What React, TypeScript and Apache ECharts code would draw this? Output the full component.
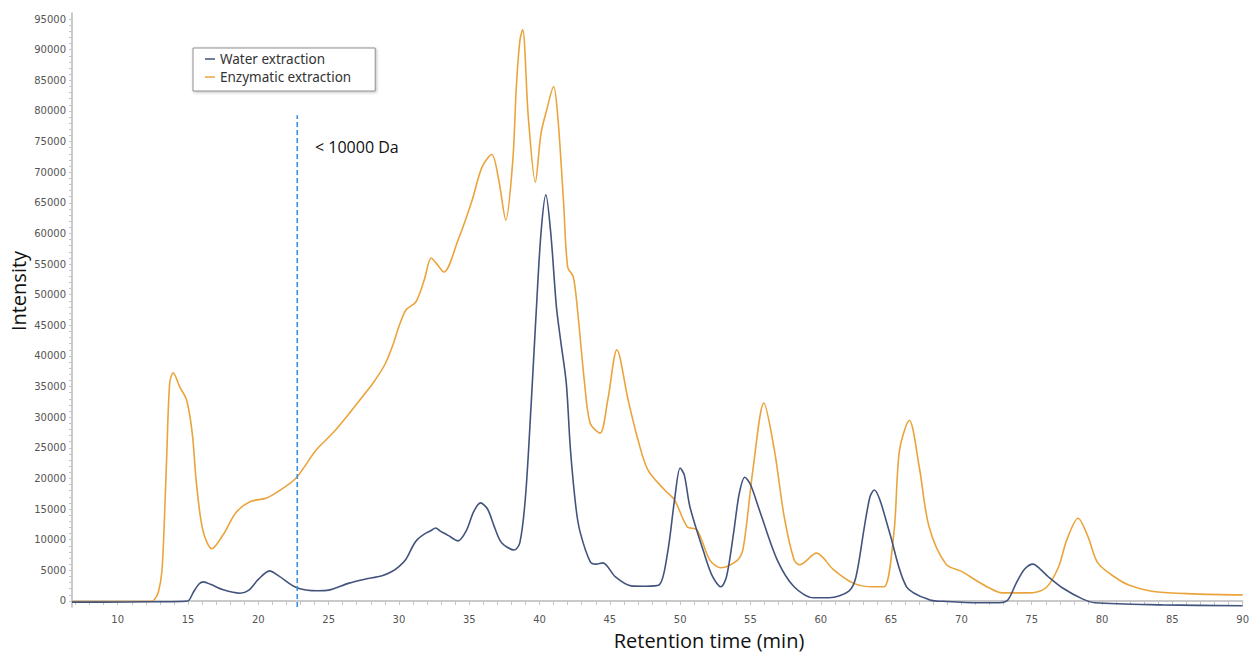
import React, { useEffect, useRef } from "react";
import * as echarts from "echarts";

const waterTime = [6.75, 9, 12, 14.5, 15.0, 15.4, 15.8, 16.1, 16.6, 17.5, 18.7, 19.3, 20.0, 20.8, 21.5, 22.7, 24.2, 25.0, 26.45, 27.5, 28.8, 29.5, 30.0, 30.5, 31.0, 31.3, 31.8, 32.3, 32.6, 33.0, 33.5, 34.2, 34.8, 35.3, 35.8, 36.3, 36.8, 37.3, 38.2, 38.6, 39.0, 39.4, 39.75, 40.1, 40.45, 40.8, 41.2, 41.5, 41.9, 42.2, 42.6, 42.9, 43.6, 44.0, 44.5, 45.4, 46.5, 47.5, 48.5, 49.1, 49.6, 50.0, 50.3, 50.7, 51.7, 52.3, 52.9, 53.3, 53.8, 54.2, 54.6, 55.0, 55.7, 56.9, 58.1, 59.5, 60.6, 62.0, 62.5, 63.1, 63.5, 63.8, 64.2, 64.9, 66.1, 67.7, 69.0, 71.3, 72.7, 73.3, 73.9, 74.5, 75.1, 75.6, 76.2, 77.2, 78.6, 79.5, 84.3, 90];
const waterIntensity = [-200, -200, -150, -100, 0, 1500, 2800, 3100, 2700, 1800, 1250, 1700, 3500, 4900, 4000, 2200, 1650, 1750, 2900, 3500, 4100, 4800, 5600, 6800, 9000, 10000, 10900, 11500, 11900, 11300, 10700, 9800, 11500, 14500, 16000, 15000, 12000, 9500, 8300, 9500, 17000, 32000, 46700, 60000, 66300, 60000, 48000, 42500, 35600, 24600, 15000, 11100, 6400, 6000, 6200, 3900, 2450, 2400, 2600, 7800, 16500, 21700, 20500, 15300, 7800, 4000, 2300, 4000, 11100, 17500, 20200, 19000, 14400, 6700, 2300, 500, 500, 1600, 3900, 12100, 17000, 18100, 16500, 11100, 2300, 200, -100, -300, -300, 150, 2900, 5200, 6000, 5200, 3900, 2100, 330, -300, -650, -800];

const enzTime = [6.75, 10, 12.3, 12.6, 12.9, 13.15, 13.35, 13.5, 13.7, 13.95, 14.4, 14.9, 15.3, 15.6, 16.05, 16.7, 17.5, 18.4, 19.4, 20.6, 21.7, 22.7, 24.1, 25.3, 26.5, 27.6, 28.2, 29.0, 29.6, 30.0, 30.5, 31.2, 31.8, 32.3, 32.7, 33.2, 34.2, 35.2, 35.9, 36.6, 37.1, 37.6, 38.1, 38.35, 38.6, 38.8, 39.2, 39.7, 40.1, 40.5, 41.0, 41.3, 41.7, 42.0, 42.4, 42.7, 43.2, 43.6, 44.3, 44.85, 45.5, 46.3, 47.0, 47.7, 48.9, 49.6, 50.5, 51.2, 52.1, 52.9, 54.1, 54.5, 55.2, 55.95, 56.7, 57.4, 58.1, 58.5, 59.7, 60.9, 62.3, 63.7, 64.5, 65.2, 65.6, 66.3, 67.0, 67.7, 68.9, 70.1, 71.0, 72.0, 72.9, 74.8, 76.0, 76.9, 77.5, 78.3, 79.0, 79.7, 80.9, 81.9, 83.8, 86.6, 90];
const enzIntensity = [-100, -100, -100, 200, 1500, 5000, 15000, 24600, 35600, 37250, 35000, 32800, 27400, 19200, 11600, 8500, 10800, 14400, 16200, 16800, 18300, 20100, 24600, 27400, 30700, 33900, 35700, 38600, 42000, 44800, 47500, 48800, 52400, 56000, 55000, 53700, 58900, 65400, 70800, 72900, 68700, 62200, 72000, 84000, 91500, 93300, 79000, 68400, 76300, 80100, 84000, 79000, 65400, 54500, 52900, 47500, 35600, 29000, 27400, 32800, 41000, 32800, 26300, 21400, 18100, 16500, 12100, 11600, 6700, 5400, 6700, 8800, 21900, 32300, 24600, 13700, 6700, 5900, 7800, 5100, 2900, 2300, 2300, 11100, 24600, 29500, 21900, 12100, 6000, 4700, 3400, 2100, 1300, 1300, 2100, 5500, 10000, 13500, 10500, 6200, 3900, 2600, 1500, 1150, 980];

const cutoffTime = [22.77, 22.77];
const cutoffIntensity = [-1000, 79300];

const xLabelValues = [10, 15, 20, 25, 30, 35, 40, 45, 50, 55, 60, 65, 70, 75, 80, 85, 90];
const yLabelValues = [0, 5000, 10000, 15000, 20000, 25000, 30000, 35000, 40000, 45000, 50000, 55000, 60000, 65000, 70000, 75000, 80000, 85000, 90000, 95000];

const seriesNames = ["Water extraction", "Enzymatic extraction"];
const annotationText = "< 10000 Da";
const xTitle = "Retention time (min)";
const yTitle = "Intensity";

const zip = (a: number[], b: number[]) => a.map((v, i) => [v, b[i]]);

export default function App() {
  const ref = useRef<HTMLDivElement>(null);
  useEffect(() => {
    if (!ref.current) return;
    const chart = echarts.init(ref.current, null, { renderer: "svg" });
    const xTicks: number[] = [];
    for (let v = 7; v <= 90; v += 1) xTicks.push(v);
    const yTicks: number[] = [];
    for (let v = 0; v <= 95000; v += 1000) yTicks.push(v);
    chart.setOption({
      animation: false,
      backgroundColor: "#ffffff",
      grid: { left: 72, right: 4, top: 13, bottom: 47, containLabel: false },
      xAxis: {
        type: "value",
        min: 6.75,
        max: 90,
        axisLine: { show: true, lineStyle: { color: "#b9b9b9", width: 1.5 } },
        axisTick: { show: true, length: 4, lineStyle: { color: "#c4c4c4" }, customValues: xTicks },
        axisLabel: {
          customValues: xLabelValues,
          formatter: (v: number) => String(v),
          color: "#555",
          fontFamily: "DejaVu Sans",
          fontSize: 10,
          margin: 7,
          showMaxLabel: true,
        },
        splitLine: { show: false },
      },
      yAxis: {
        type: "value",
        min: -1000,
        max: 96000,
        axisLine: { show: true, lineStyle: { color: "#b9b9b9", width: 1.5 } },
        axisTick: { show: true, length: 3, lineStyle: { color: "#c4c4c4" }, customValues: yTicks },
        axisLabel: {
          customValues: yLabelValues,
          formatter: (v: number) => String(v),
          color: "#555",
          fontFamily: "DejaVu Sans",
          fontSize: 10,
          margin: 6,
        },
        splitLine: { show: false },
      },
      legend: {
        data: seriesNames,
        orient: "vertical",
        left: 193,
        top: 48,
        icon: "rect",
        itemWidth: 10,
        itemHeight: 1.5,
        itemGap: 4,
        padding: [4, 24, 7, 12],
        backgroundColor: "#fff",
        borderColor: "#8f8f8f",
        borderWidth: 1,
        shadowBlur: 3,
        shadowColor: "rgba(0,0,0,0.25)",
        shadowOffsetX: 1,
        shadowOffsetY: 1,
        textStyle: { color: "#333", fontFamily: "Noto Sans", fontSize: 13.5 },
      },
      series: [
        {
          name: seriesNames[0],
          type: "line",
          data: zip(waterTime, waterIntensity),
          showSymbol: false,
          smooth: 0.3,
          lineStyle: { color: "#42547d", width: 1.6 },
          itemStyle: { color: "#42547d" },
          z: 3,
        },
        {
          name: seriesNames[1],
          type: "line",
          data: zip(enzTime, enzIntensity),
          showSymbol: false,
          smooth: 0.3,
          lineStyle: { color: "#eba43c", width: 1.6 },
          itemStyle: { color: "#eba43c" },
          z: 2,
        },
        {
          name: "cutoff",
          type: "line",
          data: zip(cutoffTime, cutoffIntensity),
          showSymbol: false,
          lineStyle: { color: "#3b8ee2", width: 1.6, type: [5, 3] },
          z: 4,
        },
      ],
      graphic: [
        {
          type: "text",
          left: 315,
          top: 139,
          style: { text: annotationText, fill: "#111", font: "16px 'Open Sans'" },
        },
        {
          type: "text",
          x: 709,
          y: 640,
          style: { text: xTitle, fill: "#111", font: "20px 'Open Sans'", align: "center", verticalAlign: "middle" },
        },
        {
          type: "text",
          x: 18,
          y: 291,
          rotation: Math.PI / 2,
          style: { text: yTitle, fill: "#111", font: "20px 'Open Sans'", align: "center", verticalAlign: "middle" },
        },
      ],
    });
    return () => chart.dispose();
  }, []);
  return <div ref={ref} style={{ position: "fixed", left: 0, top: 0, width: 1252, height: 654 }} />;
}
